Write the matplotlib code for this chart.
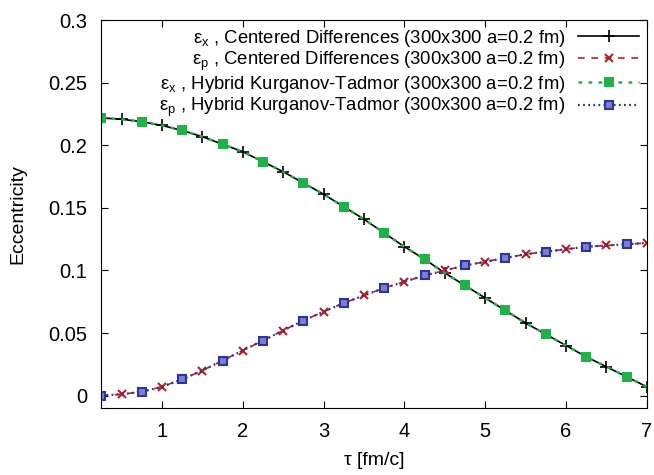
import matplotlib
matplotlib.use('Agg')
import matplotlib.pyplot as plt
import numpy as np

plt.rcParams['font.family'] = ['Liberation Sans', 'DejaVu Sans']
plt.rcParams['mathtext.fontset'] = 'custom'
plt.rcParams['mathtext.rm'] = 'Liberation Sans'

# tau [fm/c], sampled every 0.25
tau = [0.25, 0.5, 0.75, 1.0, 1.25, 1.5, 1.75, 2.0, 2.25, 2.5, 2.75, 3.0, 3.25, 3.5,
       3.75, 4.0, 4.25, 4.5, 4.75, 5.0, 5.25, 5.5, 5.75, 6.0, 6.25, 6.5, 6.75, 7.0]

eps_x = [0.222, 0.221, 0.219, 0.216, 0.212, 0.207, 0.201, 0.195, 0.187, 0.179, 0.170,
         0.161, 0.151, 0.141, 0.130, 0.119, 0.109, 0.098, 0.088, 0.078, 0.068, 0.058,
         0.049, 0.040, 0.031, 0.023, 0.015, 0.007]

eps_p = [0.000, 0.001, 0.003, 0.007, 0.013, 0.020, 0.028, 0.036, 0.044, 0.052, 0.060,
         0.067, 0.074, 0.080, 0.086, 0.091, 0.096, 0.100, 0.104, 0.107, 0.110, 0.113,
         0.115, 0.117, 0.119, 0.120, 0.121, 0.122]

labels = [
    r"ε$_\mathrm{x}$ , Centered Differences (300x300 a=0.2 fm)",
    r"ε$_\mathrm{p}$ , Centered Differences (300x300 a=0.2 fm)",
    r"ε$_\mathrm{x}$ , Hybrid Kurganov-Tadmor (300x300 a=0.2 fm)",
    r"ε$_\mathrm{p}$ , Hybrid Kurganov-Tadmor (300x300 a=0.2 fm)",
]

fig = plt.figure(figsize=(6.54, 4.75), dpi=100)
ax = fig.add_axes([0.155, 0.141, 0.834, 0.816])

ax.plot(tau, eps_x, '-', color='black', lw=1.2, marker='+', ms=9, mew=1.2,
        markevery=(1, 2), label=labels[0])
ax.plot(tau, eps_p, '--', color='#b22222', lw=1.2, marker='x', ms=6, mew=1.5,
        markevery=(1, 2), dashes=(4, 4), label=labels[1])
ax.plot(tau, eps_x, ':', color='#22b04a', lw=1.8, marker='s', ms=5.5, mew=1.5,
        markevery=(0, 2), mfc='#22b04a', dashes=(1.5, 2.5), label=labels[2])
ax.plot(tau, eps_p, ':', color='#2b35a0', lw=1.6, marker='s', ms=6, mew=1.5,
        markevery=(0, 2), mfc='#8080c8', dashes=(0.8, 1.5), label=labels[3])

ax.set_xlim(0.25, 7)
ax.set_ylim(-0.01, 0.3)
ax.set_xticks([1, 2, 3, 4, 5, 6, 7])
ax.set_yticks([0, 0.05, 0.1, 0.15, 0.2, 0.25, 0.3])
ax.set_yticklabels(['0', '0.05', '0.1', '0.15', '0.2', '0.25', '0.3'])
ax.tick_params(direction='in', top=True, right=True, length=5, labelsize=14.5, pad=10)

ax.set_xlabel('τ [fm/c]', fontsize=14, labelpad=8)
ax.set_ylabel('Eccentricity', fontsize=14, labelpad=16)

ax.legend(loc='upper right', frameon=False, markerfirst=False, fontsize=13.3,
          handlelength=3.3, labelspacing=0.05, borderaxespad=0.2, handletextpad=0.7,
          borderpad=0.2)

fig.savefig('out.png', dpi=100)
